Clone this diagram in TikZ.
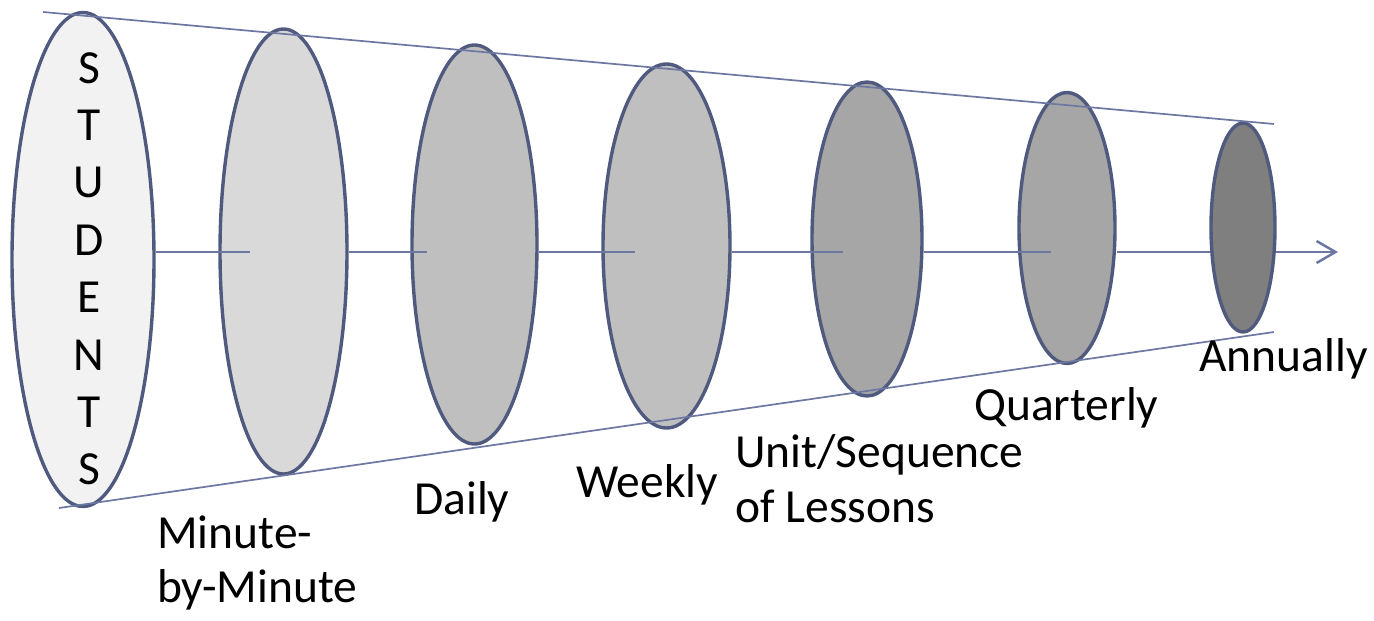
\documentclass[tikz,border=0pt]{standalone}
\usepackage{fontspec}
\setmainfont{Carlito}
\usetikzlibrary{shapes.geometric,arrows.meta}
\definecolor{rim}{RGB}{80,90,126}
\definecolor{axiscol}{RGB}{108,120,162}
\definecolor{c1}{RGB}{242,242,242}
\definecolor{c2}{RGB}{217,217,217}
\definecolor{c3}{RGB}{191,191,191}
\definecolor{c4}{RGB}{166,166,166}
\definecolor{c5}{RGB}{127,127,127}
\begin{document}
\begin{tikzpicture}[x=1pt,y=-1pt,
  disc/.style={ellipse,draw=rim,line width=3.4pt,inner sep=0pt},
  guide/.style={draw=axiscol,line width=1.7pt},
  axisline/.style={draw=axiscol,line width=2.5pt},
  lbl/.style={font=\fontsize{47.5}{54}\selectfont,inner sep=0pt,anchor=base west}]
\useasboundingbox (0,0) rectangle (1374,621);
% discs
\node[disc,fill=c1,minimum width=142pt,minimum height=494pt] (e1) at (83,259.5) {};
\node[disc,fill=c2,minimum width=127pt,minimum height=445pt] (e2) at (283.5,251.5) {};
\node[disc,fill=c3,minimum width=125pt,minimum height=399pt] (e3) at (474.5,244.5) {};
\node[disc,fill=c3,minimum width=127pt,minimum height=364pt] (e4) at (666.5,246) {};
\node[disc,fill=c4,minimum width=110pt,minimum height=314pt] (e5) at (867,239) {};
\node[disc,fill=c4,minimum width=96pt,minimum height=271pt] (e6) at (1067,228) {};
% axis coordinates
\coordinate (s2) at (250,252);
\coordinate (s3) at (427,252);
\coordinate (s4) at (635,252);
\coordinate (s5) at (843,252);
\coordinate (s6) at (1051,252);
\coordinate (tip) at (1338,252);
\draw[axisline,-{Straight Barb[length=19pt,width=22pt]}] (e6.east |- tip) -- (tip);
\node[disc,fill=c5,minimum width=64pt,minimum height=209pt] (e7) at (1243,227.5) {};
\draw[axisline] (e1.east |- s2) -- (s2);
\draw[axisline] (e2.east |- s3) -- (s3);
\draw[axisline] (e3.east |- s4) -- (s4);
\draw[axisline] (e4.east |- s5) -- (s5);
\draw[axisline] (e5.east |- s6) -- (s6);
% guide lines
\coordinate (t1) at (43,12);
\coordinate (t2) at (1274,124);
\coordinate (b1) at (59,508);
\coordinate (b2) at (1274,332);
\draw[guide] (t1) -- (t2);
\draw[guide] (b1) -- (b2);
% labels
\node[font=\fontsize{47.5}{57.4}\selectfont,inner sep=0pt,anchor=base] (stu) at (89,83)
  {\begin{tabular}[t]{@{}c@{}}S\\T\\U\\D\\E\\N\\T\\S\end{tabular}};
\node[lbl] (l2) at (157,548) {\begin{tabular}[t]{@{}l@{}}Minute-\\by-Minute\end{tabular}};
\node[lbl] (l3) at (414,514) {Daily};
\node[lbl] (l4) at (576,497) {Weekly};
\node[lbl,font=\fontsize{47.5}{55}\selectfont] (l5) at (735,467) {\begin{tabular}[t]{@{}l@{}}Unit/Sequence\\of Lessons\end{tabular}};
\node[lbl] (l6) at (974,420) {Quarterly};
\node[lbl] (l7) at (1199,371) {Annually};
\end{tikzpicture}
\end{document}
